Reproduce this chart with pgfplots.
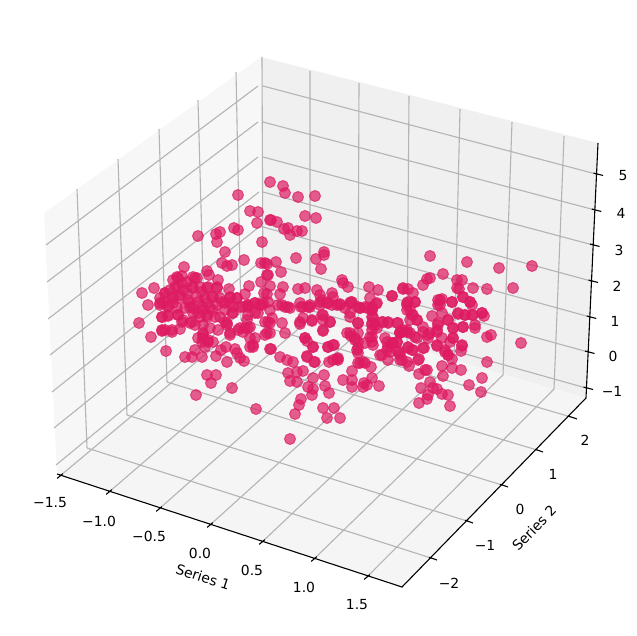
\documentclass[border=0pt]{standalone}
\usepackage{fontspec}
\setmainfont{DejaVu Sans}
\usepackage{pgfplots}
\usepackage{pgfplotstable}
\pgfplotsset{compat=1.18}
\definecolor{ptcol}{HTML}{DE1B62}
\definecolor{gridcol}{HTML}{B4B4B4}
\newcommand{\lab}{\fontsize{13.9bp}{16bp}\selectfont}

% positions, in image pixels (depth is not recoverable)
\pgfplotstableread{
px py
238 195
250 211
258 212
257 223
270 220
270 182
198 236
216 234
220 232
217 242
234 228
238 230
262 242
225 252
222 263
227 266
232 265
244 260
261 263
265 263
184 267
207 271
209 275
218 280
173 280
177 277
182 276
193 277
197 278
142 293
154 288
148 305
165 293
249 286
261 282
267 275
229 289
245 294
264 293
170 290
177 287
182 283
187 293
173 298
180 295
193 287
202 292
207 288
217 287
212 297
198 302
190 303
163 303
160 298
168 307
207 303
220 298
230 297
237 298
225 303
233 307
217 305
248 305
255 303
263 303
268 302
139 323
151 337
166 351
162 331
165 330
172 332
162 317
168 316
180 329
178 315
182 322
160 305
173 303
190 323
195 325
203 325
185 357
192 357
195 350
202 357
203 335
202 342
208 342
205 347
213 342
216 356
221 350
226 347
235 349
227 362
237 353
240 358
244 361
253 347
250 347
255 338
243 332
238 330
248 328
207 375
216 375
211 383
196 395
232 388
256 409
270 349
265 335
268 322
258 313
248 307
230 333
227 323
220 317
232 313
210 328
193 313
203 310
213 310
230 303
200 317
207 317
190 307
240 307
247 320
260 305
283 186
285 193
298 197
315 196
305 216
316 218
271 220
277 222
284 229
288 228
290 235
297 231
302 231
324 252
324 255
316 259
296 258
321 269
276 262
267 264
281 272
268 275
342 280
343 283
348 287
283 287
270 286
298 289
305 288
317 290
332 293
280 294
267 294
369 287
378 290
403 289
392 296
370 298
351 302
376 304
320 295
322 300
333 297
300 303
310 305
282 305
288 307
327 303
337 305
358 307
365 307
372 307
270 310
278 305
285 307
290 308
301 307
308 307
320 305
332 305
340 304
350 303
360 308
367 308
272 318
282 323
270 333
285 333
300 324
303 318
312 321
322 315
323 320
330 322
323 331
347 333
351 336
355 338
358 333
350 317
358 323
372 310
373 317
372 325
377 328
372 337
365 343
357 350
358 342
388 322
382 322
398 323
385 338
393 343
388 347
380 355
400 332
398 352
402 360
390 352
305 338
307 341
313 347
271 349
280 357
287 360
293 362
307 356
314 362
328 347
334 345
329 362
337 359
338 358
288 373
297 372
303 371
290 381
297 382
313 378
308 387
313 389
312 395
324 375
325 386
329 393
301 399
299 405
295 414
323 408
334 408
327 418
340 418
290 439
343 380
352 380
352 371
352 387
360 363
365 363
371 367
372 378
364 383
367 385
363 387
379 386
430 256
467 262
499 268
532 266
443 274
430 278
427 279
423 285
513 288
487 289
473 288
457 280
462 280
457 288
459 289
403 288
408 289
413 293
463 297
470 302
452 302
442 299
438 300
440 305
415 302
407 303
407 310
412 315
432 316
442 313
448 320
458 314
472 305
482 313
484 316
473 315
465 315
475 328
463 327
453 328
438 323
437 330
430 333
423 327
417 320
410 320
403 330
410 333
417 338
428 338
442 338
453 338
450 342
487 337
491 335
521 343
462 346
461 351
437 346
424 348
408 347
413 350
445 350
448 355
452 359
419 359
409 366
487 362
442 366
452 368
461 370
443 376
425 370
427 370
419 374
430 382
421 388
482 378
469 385
481 392
437 389
433 388
442 394
448 395
428 395
427 399
419 403
450 406
178 278
187 282
195 278
175 287
183 290
192 288
200 287
208 287
217 288
165 293
172 297
180 298
188 300
197 297
205 298
213 297
222 302
230 298
237 298
160 303
168 305
177 308
185 308
193 308
202 307
210 308
198 313
207 315
215 317
225 310
233 313
243 307
248 305
255 303
262 305
183 320
192 322
178 315
168 315
162 317
162 330
172 330
203 333
203 338
208 340
198 338
240 328
245 328
250 327
248 315
255 313
265 322
270 323
267 333
225 322
227 325
218 330
230 335
250 338
253 345
372 310
372 317
372 323
372 330
375 325
370 337
372 342
373 345
340 305
345 308
350 313
358 323
350 333
355 340
358 348
358 353
387 342
392 343
397 342
400 333
407 332
387 350
382 355
320 302
328 303
310 307
303 307
323 315
330 322
312 320
323 330
300 322
352 302
360 308
377 303
392 296
338 360
333 360
328 347
333 345
313 347
305 338
307 357
315 362
358 363
363 362
388 360
400 355
407 362
388 323
383 322
397 323
407 305
410 310
413 315
417 320
408 302
415 302
438 325
437 332
428 335
423 332
415 337
407 330
400 333
397 342
438 305
440 300
452 302
465 315
472 315
458 313
448 320
475 325
463 327
453 328
482 313
470 302
463 297
445 352
448 355
437 345
453 338
462 345
400 352
408 348
412 350
423 348
418 360
400 360
}\pts

\begin{document}
\begin{tikzpicture}
\begin{axis}[
  scale only axis, width=637bp, height=636bp,
  xmin=0, xmax=637, ymin=0, ymax=636, y dir=reverse,
  hide axis, clip=false, unbounded coords=jump]

% keep the whole image area in the bounding box
\path (axis cs:0,0) (axis cs:637,636);

% panes
\addplot[draw=none, fill=black!3] coordinates {(44,213)(261,57)(263,306)(57,474)} -- cycle;
\addplot[draw=none, fill=black!6] coordinates {(261,57)(598,143)(586,398)(263,306)} -- cycle;
\addplot[draw=none, fill=black!4] coordinates {(57,474)(263,306)(586,398)(402,587)} -- cycle;

% grid: left wall, then back wall, then floor
\addplot[gridcol, line width=1.1bp] coordinates {
 (77,189)(87,448) (nan,nan) (118,159)(127,415) (nan,nan) (159,129)(167,382) (nan,nan)
 (198,100)(205,350) (nan,nan) (236,72)(241,320) (nan,nan)
 (46,245)(258,86) (nan,nan) (47,282)(258,122) (nan,nan) (48,319)(258,157) (nan,nan)
 (50,355)(259,192) (nan,nan) (52,392)(259,227) (nan,nan) (54,428)(260,262) (nan,nan)
 (56,465)(260,297) (nan,nan)
 (262,57)(263,306) (nan,nan) (310,71)(310,319) (nan,nan) (359,83)(358,333) (nan,nan)
 (409,96)(407,347) (nan,nan) (460,109)(454,361) (nan,nan) (512,122)(503,375) (nan,nan)
 (564,136)(554,389) (nan,nan)
 (263,86)(596,174) (nan,nan) (263,122)(595,210) (nan,nan) (263,157)(593,245) (nan,nan)
 (263,192)(591,281) (nan,nan) (263,227)(590,317) (nan,nan) (263,262)(588,352) (nan,nan)
 (263,297)(586,388) (nan,nan)
 (60,476)(263,306) (nan,nan) (109,492)(310,319) (nan,nan) (159,509)(358,333) (nan,nan)
 (210,525)(407,347) (nan,nan) (262,542)(454,361) (nan,nan) (314,559)(503,375) (nan,nan)
 (367,577)(554,389) (nan,nan)
 (87,448)(431,558) (nan,nan) (127,415)(467,521) (nan,nan) (167,382)(502,485) (nan,nan)
 (205,350)(537,450) (nan,nan) (241,320)(571,417)
};

% axis lines and ticks
\addplot[black, line width=1.1bp] coordinates {
 (57,474)(402,587)(586,398)(598,143) (nan,nan)
 (57.2,478.4)(62.8,473.6) (nan,nan) (106.2,494.4)(111.8,489.6) (nan,nan)
 (156.2,511.4)(161.8,506.6) (nan,nan) (207.2,527.4)(212.8,522.6) (nan,nan)
 (259.2,544.4)(264.8,539.6) (nan,nan) (311.2,561.4)(316.8,556.6) (nan,nan)
 (364.2,579.4)(369.8,574.6) (nan,nan)
 (429,557.3)(437,560) (nan,nan) (465,520.3)(473,523) (nan,nan) (500,484.3)(508,487) (nan,nan)
 (535,449.3)(543,452) (nan,nan) (569,416.3)(577,419) (nan,nan)
 (593.5,173)(603,175.5) (nan,nan) (591.8,209)(601.3,211.5) (nan,nan)
 (590,244)(599.5,246.5) (nan,nan) (588.5,280)(598,282.5) (nan,nan)
 (586.8,316)(596.3,318.5) (nan,nan) (585,351)(594.5,353.5) (nan,nan)
 (583.5,387)(593,389.5)
};

\addplot[only marks, mark=*, mark size=5.5bp,
  mark options={draw=ptcol, fill=ptcol, line width=1bp, fill opacity=0.7, draw opacity=0.7}]
  table[x=px, y=py] {\pts};

% tick labels
\node[font=\lab] at (axis cs:50,503) {−1.5};
\node[font=\lab] at (axis cs:99,521) {−1.0};
\node[font=\lab] at (axis cs:149,536) {−0.5};
\node[font=\lab] at (axis cs:200,553) {0.0};
\node[font=\lab] at (axis cs:252,570) {0.5};
\node[font=\lab] at (axis cs:304,587) {1.0};
\node[font=\lab] at (axis cs:357,605) {1.5};
\node[font=\lab] at (axis cs:449,583) {−2};
\node[font=\lab] at (axis cs:485,545) {−1};
\node[font=\lab] at (axis cs:520,509) {0};
\node[font=\lab] at (axis cs:553,474) {1};
\node[font=\lab] at (axis cs:585,440) {2};
\node[font=\lab] at (axis cs:623,176) {5};
\node[font=\lab] at (axis cs:621,213) {4};
\node[font=\lab] at (axis cs:619,250) {3};
\node[font=\lab] at (axis cs:617,286) {2};
\node[font=\lab] at (axis cs:615,321) {1};
\node[font=\lab] at (axis cs:613,356) {0};
\node[font=\lab] at (axis cs:612,391) {−1};
\node[font=\lab, rotate=-18] at (axis cs:203,577) {Series 1};
\node[font=\lab, rotate=46] at (axis cs:534,528) {Series 2};
\end{axis}
\end{tikzpicture}
\end{document}
